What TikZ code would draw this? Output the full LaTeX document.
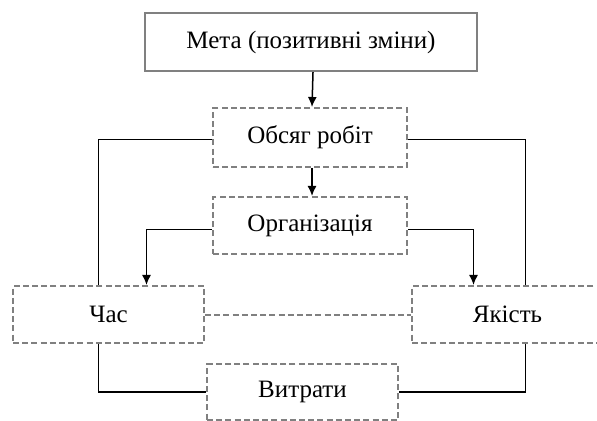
\documentclass[tikz,border=0pt]{standalone}
\usepackage{fontspec}
\setmainfont{Liberation Serif}
\usepackage{tikz}
\usetikzlibrary{shapes,arrows.meta}

\begin{document}
\begin{tikzpicture}[x=0.5pt,y=-0.5pt,font=\fontsize{12.5}{14}\selectfont]
    \tikzset{pname/.style={draw=gray,rectangle,line width=1.2pt,inner sep=0pt},text centered,color=black}
    \tikzset{pdash/.style={draw=gray,rectangle,line width=1pt,dash pattern=on 3pt off 1.6pt,inner sep=0pt}}
    \tikzstyle{fleche}=[->,>={Latex[length=5pt,width=4.5pt]},line width=0.75pt]
    \tikzstyle{lien}=[line width=0.75pt]
    \clip (0,0) rectangle (597,421);
    \useasboundingbox (0,0) rectangle (597,421);

    \node[pname,minimum width=166pt,minimum height=29pt] (META) at (311,42) {Мета (позитивні зміни)};
    \node[pdash,minimum width=97pt,minimum height=29.5pt] (OBS) at (310,137.5) {Обсяг робіт};
    \node[pdash,minimum width=97pt,minimum height=28.5pt] (ORG) at (310,225.5) {Організація};
    \draw[fleche] ([xshift=1pt]META.south) -- ([xshift=1pt]OBS.north);
    \draw[fleche] ([xshift=1pt]OBS.south) -- ([xshift=1pt]ORG.north);

    \node[pdash,minimum width=95.5pt,minimum height=28.5pt] (CHAS) at (108.5,314.5) {Час};
    \node[pdash,minimum width=95.5pt,minimum height=28.5pt] (YAK) at (507.5,314.5) {Якість};
    \node[pdash,minimum width=95.5pt,minimum height=28pt] (VYT) at (302.5,392) {Витрати};
    \draw[pdash] (CHAS.east)--(YAK.west);

    \draw[lien] ([yshift=-1pt]OBS.west) -| ([xshift=-5pt]CHAS.north);
    \draw[lien] ([yshift=-1pt]OBS.east) -| ([xshift=9pt]YAK.north);
    \draw[fleche] ([yshift=-2pt]ORG.west) -| ([xshift=19pt]CHAS.north);
    \draw[fleche] ([yshift=-2pt]ORG.east) -| ([xshift=-17pt]YAK.north);

    \draw[lien] ([xshift=-5pt]CHAS.south) |- (VYT.west);
    \draw[lien] ([xshift=9pt]YAK.south) |- (VYT.east);
  \end{tikzpicture}
\end{document}
